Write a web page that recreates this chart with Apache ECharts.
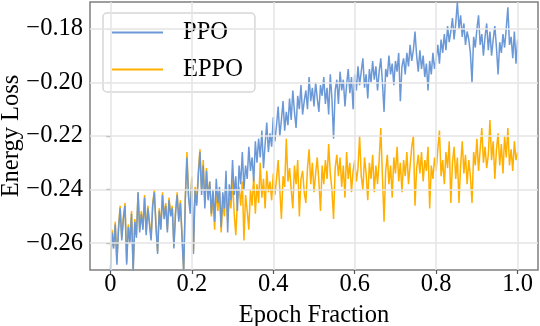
<!DOCTYPE html>
<html>
<head>
<meta charset="utf-8">
<script src="https://cdn.jsdelivr.net/npm/echarts@6/dist/echarts.min.js"></script>
<style>
html,body{margin:0;padding:0;background:#fff;}
#c{width:540px;height:326px;}
</style>
</head>
<body>
<div id="c"></div>
<script>
// Epoch fraction sampled every 0.004 from 0 to 1
const xStep = 0.004;
const ppo = [
-0.272,-0.256,-0.262,-0.253,-0.268,-0.255,-0.247,-0.259,-0.251,-0.246,
-0.268,-0.254,-0.260,-0.249,-0.271,-0.252,-0.258,-0.241,-0.256,-0.249,
-0.255,-0.243,-0.257,-0.247,-0.253,-0.259,-0.246,-0.241,-0.254,-0.264,
-0.248,-0.255,-0.242,-0.251,-0.246,-0.256,-0.244,-0.250,-0.247,-0.262,
-0.249,-0.242,-0.252,-0.245,-0.258,-0.271,-0.244,-0.228,-0.243,-0.249,
-0.236,-0.264,-0.240,-0.246,-0.235,-0.226,-0.242,-0.231,-0.247,-0.233,
-0.244,-0.237,-0.249,-0.240,-0.252,-0.236,-0.245,-0.239,-0.254,-0.241,
-0.247,-0.233,-0.256,-0.238,-0.244,-0.229,-0.242,-0.235,-0.248,-0.231,
-0.238,-0.226,-0.240,-0.231,-0.236,-0.224,-0.233,-0.228,-0.237,-0.222,
-0.230,-0.221,-0.228,-0.218,-0.232,-0.223,-0.215,-0.226,-0.219,-0.224,
-0.213,-0.222,-0.216,-0.209,-0.220,-0.214,-0.207,-0.218,-0.211,-0.216,
-0.206,-0.214,-0.203,-0.211,-0.217,-0.205,-0.210,-0.201,-0.212,-0.207,
-0.203,-0.210,-0.198,-0.207,-0.202,-0.209,-0.200,-0.206,-0.211,-0.201,
-0.205,-0.198,-0.208,-0.202,-0.212,-0.197,-0.206,-0.221,-0.203,-0.199,
-0.208,-0.196,-0.203,-0.199,-0.209,-0.201,-0.195,-0.204,-0.198,-0.210,
-0.197,-0.203,-0.194,-0.201,-0.196,-0.191,-0.202,-0.197,-0.206,-0.195,
-0.200,-0.192,-0.199,-0.194,-0.203,-0.196,-0.191,-0.200,-0.211,-0.195,
-0.198,-0.190,-0.197,-0.193,-0.201,-0.192,-0.196,-0.189,-0.207,-0.194,
-0.191,-0.197,-0.189,-0.194,-0.186,-0.192,-0.188,-0.181,-0.190,-0.196,
-0.188,-0.195,-0.190,-0.198,-0.193,-0.203,-0.192,-0.197,-0.189,-0.195,
-0.191,-0.186,-0.193,-0.184,-0.189,-0.182,-0.188,-0.179,-0.185,-0.181,
-0.176,-0.184,-0.178,-0.170,-0.180,-0.175,-0.183,-0.178,-0.186,-0.181,
-0.184,-0.189,-0.200,-0.183,-0.187,-0.180,-0.175,-0.186,-0.182,-0.190,
-0.183,-0.178,-0.188,-0.181,-0.190,-0.184,-0.179,-0.187,-0.197,-0.185,
-0.189,-0.182,-0.187,-0.180,-0.172,-0.186,-0.183,-0.191,-0.181,-0.193,
-0.184
];
const eppo = [
-0.271,-0.255,-0.261,-0.252,-0.267,-0.254,-0.246,-0.258,-0.250,-0.245,
-0.267,-0.253,-0.259,-0.248,-0.270,-0.251,-0.257,-0.241,-0.255,-0.248,
-0.254,-0.242,-0.256,-0.246,-0.252,-0.258,-0.245,-0.240,-0.253,-0.263,
-0.247,-0.254,-0.241,-0.250,-0.245,-0.255,-0.243,-0.249,-0.246,-0.261,
-0.248,-0.241,-0.251,-0.244,-0.257,-0.270,-0.243,-0.226,-0.242,-0.248,
-0.235,-0.263,-0.239,-0.245,-0.233,-0.225,-0.240,-0.229,-0.245,-0.232,
-0.243,-0.237,-0.250,-0.243,-0.255,-0.240,-0.248,-0.241,-0.256,-0.245,
-0.250,-0.238,-0.252,-0.243,-0.247,-0.236,-0.249,-0.257,-0.244,-0.239,
-0.246,-0.237,-0.259,-0.242,-0.248,-0.255,-0.240,-0.246,-0.235,-0.249,
-0.238,-0.245,-0.230,-0.243,-0.236,-0.247,-0.233,-0.241,-0.237,-0.244,
-0.234,-0.242,-0.236,-0.229,-0.240,-0.251,-0.235,-0.239,-0.221,-0.237,
-0.232,-0.240,-0.247,-0.231,-0.238,-0.229,-0.250,-0.236,-0.233,-0.241,
-0.245,-0.232,-0.225,-0.238,-0.230,-0.241,-0.234,-0.228,-0.237,-0.248,
-0.231,-0.238,-0.229,-0.236,-0.223,-0.234,-0.240,-0.251,-0.232,-0.227,
-0.235,-0.228,-0.239,-0.231,-0.243,-0.226,-0.236,-0.230,-0.241,-0.233,
-0.229,-0.237,-0.232,-0.220,-0.235,-0.240,-0.228,-0.234,-0.244,-0.230,
-0.236,-0.227,-0.241,-0.231,-0.238,-0.229,-0.217,-0.235,-0.252,-0.233,
-0.227,-0.238,-0.231,-0.243,-0.228,-0.234,-0.224,-0.237,-0.230,-0.241,
-0.229,-0.235,-0.226,-0.238,-0.231,-0.224,-0.220,-0.246,-0.232,-0.227,
-0.234,-0.226,-0.237,-0.229,-0.233,-0.224,-0.247,-0.231,-0.236,-0.228,
-0.233,-0.225,-0.218,-0.235,-0.229,-0.238,-0.226,-0.232,-0.222,-0.245,
-0.230,-0.224,-0.236,-0.228,-0.245,-0.231,-0.222,-0.234,-0.227,-0.238,
-0.229,-0.235,-0.245,-0.226,-0.231,-0.221,-0.233,-0.225,-0.217,-0.230,
-0.224,-0.232,-0.227,-0.214,-0.229,-0.222,-0.236,-0.225,-0.219,-0.231,
-0.223,-0.234,-0.220,-0.228,-0.217,-0.231,-0.225,-0.233,-0.222,-0.229,
-0.226
];
const xTicks = [0, 0.2, 0.4, 0.6, 0.8, 1.0];
const yTicks = [-0.26, -0.24, -0.22, -0.20, -0.18];
const xTickLabels = ['0', '0.2', '0.4', '0.6', '0.8', '1.0'];
const yTickLabels = ['\u22120.26', '\u22120.24', '\u22120.22', '\u22120.20', '\u22120.18'];

const toPairs = arr => arr.map((v, i) => [+(i * xStep).toFixed(3), v]);
const FONT = '"Liberation Serif", "Times New Roman", serif';
const FS = 24.5;
const chart = echarts.init(document.getElementById('c'), null, {renderer: 'canvas'});
const gridLines = xTicks.map(v => ({xAxis: v})).concat(yTicks.map(v => ({yAxis: v})));

chart.setOption({
  animation: false,
  backgroundColor: '#ffffff',
  grid: {left: 90, right: 2, top: 2, bottom: 56, containLabel: false, outerBoundsMode: 'none',
    show: true, borderColor: '#7f7f7f', borderWidth: 1.5, backgroundColor: 'transparent'},
  legend: {
    show: true,
    orient: 'vertical',
    left: 103, top: 13,
    data: ['PPO', 'EPPO'],
    icon: 'rect',
    itemWidth: 51, itemHeight: 2, itemGap: 12,
    padding: [7, 12, 10, 9],
    backgroundColor: 'rgba(255,255,255,0.8)',
    borderColor: '#d6d6d6', borderWidth: 1.5, borderRadius: 4,
    textStyle: {fontFamily: FONT, fontSize: FS, color: '#000', padding: [0, 0, 0, 15], lineHeight: 24},
    selectedMode: false
  },
  xAxis: {
    type: 'value', min: -0.05, max: 1.05,
    name: 'Epoch Fraction', nameLocation: 'middle', nameGap: 33, nameMoveOverlap: false,
    nameTextStyle: {fontFamily: FONT, fontSize: FS, color: '#000'},
    axisLine: {show: false},
    axisTick: {show: true, customValues: xTicks, length: 4, lineStyle: {color: '#555', width: 1.2}},
    axisLabel: {customValues: xTicks, fontFamily: FONT, fontSize: FS, color: '#000', margin: 2,
      formatter: v => xTickLabels[xTicks.findIndex(t => Math.abs(t - v) < 1e-9)] ?? ''},
    splitLine: {show: false}
  },
  yAxis: {
    type: 'value', min: -0.27, max: -0.17,
    name: 'Energy Loss', nameLocation: 'middle', nameGap: 66, nameRotate: 90, nameMoveOverlap: false,
    nameTextStyle: {fontFamily: FONT, fontSize: FS, color: '#000'},
    axisLine: {show: false},
    axisTick: {show: true, customValues: yTicks, length: 4, lineStyle: {color: '#555', width: 1.2}},
    axisLabel: {customValues: yTicks, fontFamily: FONT, fontSize: FS, color: '#000', margin: 7,
      formatter: v => yTickLabels[yTicks.findIndex(t => Math.abs(t - v) < 1e-9)] ?? ''},
    splitLine: {show: false}
  },
  series: [
    {
      name: 'grid', type: 'line', data: [], z: 1, silent: true,
      markLine: {silent: true, symbol: 'none', animation: false, label: {show: false},
        lineStyle: {color: '#e4e4e4', width: 1.5, type: 'solid'}, data: gridLines}
    },
    {
      name: 'EPPO', type: 'line', data: toPairs(eppo), symbol: 'none', z: 3,
      lineStyle: {color: '#ffb000', width: 1.5}, itemStyle: {color: '#ffb000'}
    },
    {
      name: 'PPO', type: 'line', data: toPairs(ppo), symbol: 'none', z: 4,
      lineStyle: {color: '#6b98d6', width: 1.5}, itemStyle: {color: '#6b98d6'}
    }
  ]
});
</script>
</body>
</html>
